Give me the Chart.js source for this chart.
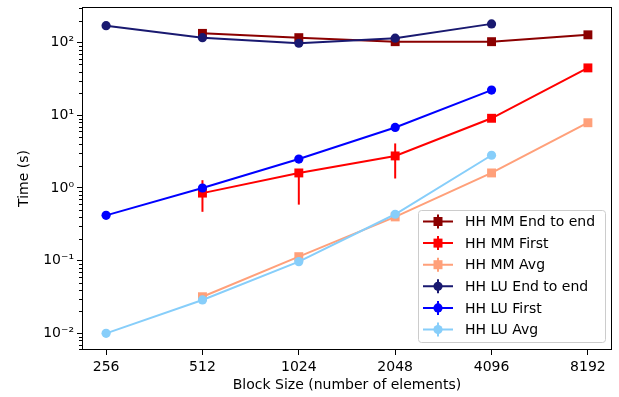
<!DOCTYPE html>
<html>
<head>
<meta charset="utf-8">
<script src="https://cdn.jsdelivr.net/npm/chart.js@4/dist/chart.umd.min.js"></script>
<style>
  html, body { margin: 0; padding: 0; background: #fff; }
  #wrap { width: 619px; height: 397px; }
</style>
</head>
<body>
<div id="wrap"><canvas id="chart" width="619" height="397"></canvas></div>
<script>
// data
const blockSizes = [256, 512, 1024, 2048, 4096, 8192];
const mmEndToEnd = [null, 134, 117, 103, 103, 128];
const mmFirst = [null, 0.85, 1.61, 2.76, 9.1, 44.9];
const mmFirstLow = [null, 0.47, 0.59, 1.35, null, null];
const mmFirstHigh = [null, 1.28, 1.75, 4.1, null, null];
const mmAvg = [null, 0.0319, 0.1135, 0.40, 1.61, 7.9];
const luEndToEnd = [171, 117, 98, 115, 181, null];
const luFirst = [0.42, 1.0, 2.5, 6.8, 22.2, null];
const luAvg = [0.01, 0.0288, 0.097, 0.435, 2.82, null];
const yTicks = [0.01, 0.1, 1, 10, 100];
const seriesNames = ['HH MM End to end', 'HH MM First', 'HH MM Avg', 'HH LU End to end', 'HH LU First', 'HH LU Avg'];

const FONT = 'DejaVu Sans';
const xs = blockSizes.map(b => Math.log2(b));

function points(vals) {
    const out = [];
    vals.forEach((v, i) => { if (v !== null) out.push({x: xs[i], y: v}); });
    return out;
}

function series(idx, vals, color, shape) {
    return {
        label: seriesNames[idx],
        data: points(vals),
        borderColor: color,
        backgroundColor: color,
        borderWidth: 2,
        pointStyle: shape,
        pointRadius: shape === 'rect' ? 6.3 : 4.6,
        pointBorderWidth: 0,
        order: 10 - idx,
        clip: false
    };
}

const datasets = [
    series(0, mmEndToEnd, '#8b0000', 'rect'),
    series(1, mmFirst, '#ff0000', 'rect'),
    series(2, mmAvg, '#ffa07a', 'rect'),
    series(3, luEndToEnd, '#191970', 'circle'),
    series(4, luFirst, '#0000ff', 'circle'),
    series(5, luAvg, '#87cefa', 'circle')
];

const sup = {'-': '\u207b', '0': '\u2070', '1': '\u00b9', '2': '\u00b2', '3': '\u00b3'};
function powLabel(v) {
    const e = Math.round(Math.log10(v));
    return '10' + String(e).split('').map(c => sup[c]).join('');
}

// error bars for HH MM First, drawn under its line
const errorBars = {
    id: 'errorBars',
    beforeDatasetDraw(chart, args) {
        if (args.index !== 1) return;
        const ctx = chart.ctx, x = chart.scales.x, y = chart.scales.y;
        ctx.save();
        ctx.strokeStyle = '#ff0000';
        ctx.lineWidth = 2;
        mmFirstLow.forEach((lo, i) => {
            if (lo === null) return;
            const px = x.getPixelForValue(xs[i]);
            ctx.beginPath();
            ctx.moveTo(px, y.getPixelForValue(lo));
            ctx.lineTo(px, y.getPixelForValue(mmFirstHigh[i]));
            ctx.stroke();
        });
        ctx.restore();
    }
};

// minor ticks, frame and legend in matplotlib style
const decor = {
    id: 'decor',
    afterDraw(chart) {
        const ctx = chart.ctx, a = chart.chartArea, y = chart.scales.y;
        ctx.save();
        ctx.strokeStyle = '#000';
        ctx.lineWidth = 1;
        for (let e = -3; e <= 3; e++) {
            for (let k = 2; k <= 9; k++) {
                const v = k * Math.pow(10, e);
                if (v < y.min || v > y.max) continue;
                const py = Math.round(y.getPixelForValue(v)) + 0.5;
                ctx.beginPath();
                ctx.moveTo(a.left - 3, py);
                ctx.lineTo(a.left, py);
                ctx.stroke();
            }
        }
        ctx.strokeRect(a.left + 0.5, a.top + 0.5, a.right - a.left - 1, a.bottom - a.top - 1);

        // legend box
        const bx = 418, by = 210, bw = 187, bh = 132;
        ctx.beginPath();
        ctx.roundRect(bx + 0.5, by + 0.5, bw, bh, 3);
        ctx.fillStyle = 'rgba(255,255,255,0.8)';
        ctx.fill();
        ctx.strokeStyle = '#cccccc';
        ctx.stroke();
        ctx.font = '14px "' + FONT + '"';
        ctx.textBaseline = 'middle';
        datasets.forEach((ds, i) => {
            const cy = by + 11.5 + i * 21.6;
            ctx.strokeStyle = ds.borderColor;
            ctx.fillStyle = ds.borderColor;
            ctx.lineWidth = 2;
            ctx.beginPath();
            ctx.moveTo(423, cy);
            ctx.lineTo(453, cy);
            ctx.moveTo(438, cy - 7);
            ctx.lineTo(438, cy + 7);
            ctx.stroke();
            ctx.beginPath();
            if (ds.pointStyle === 'rect') ctx.rect(433.5, cy - 4.5, 9, 9);
            else ctx.arc(438, cy, 4.6, 0, Math.PI * 2);
            ctx.fill();
            ctx.fillStyle = '#000';
            ctx.fillText(ds.label, 465, cy + 1);
        });
        ctx.restore();
    }
};

new Chart(document.getElementById('chart'), {
    type: 'line',
    data: { datasets: datasets },
    plugins: [errorBars, decor],
    options: {
        responsive: false,
        animation: false,
        layout: { padding: { left: 0, right: 7, top: 7, bottom: 0 } },
        plugins: { legend: { display: false }, tooltip: { enabled: false } },
        scales: {
            x: {
                type: 'linear',
                min: xs[0] - 0.25,
                max: xs[xs.length - 1] + 0.25,
                afterBuildTicks: s => { s.ticks = xs.map(v => ({value: v})); },
                afterFit: s => { s.height = 47; s.paddingLeft = 0; s.paddingRight = 0; },
                grid: { drawOnChartArea: false, tickLength: 5, color: '#000', tickColor: '#000' },
                border: { display: false },
                ticks: {
                    color: '#000', padding: 4,
                    font: { family: FONT, size: 14 },
                    callback: v => String(Math.round(Math.pow(2, v)))
                },
                title: {
                    display: true, text: 'Block Size (number of elements)', color: '#000',
                    font: { family: FONT, size: 14 }, padding: { top: 0, bottom: 3 }
                }
            },
            y: {
                type: 'logarithmic',
                min: 0.0059,
                max: 309,
                afterBuildTicks: s => { s.ticks = yTicks.map(v => ({value: v})); },
                afterFit: s => { s.width = 82; s.paddingTop = 0; s.paddingBottom = 0; },
                grid: { drawOnChartArea: false, tickLength: 5, color: '#000', tickColor: '#000' },
                border: { display: false },
                ticks: {
                    color: '#000', padding: 3,
                    font: { family: FONT, size: 14 },
                    callback: v => powLabel(v)
                },
                title: {
                    display: true, text: 'Time (s)', color: '#000',
                    font: { family: FONT, size: 14 }, padding: { top: 16, bottom: 0 }
                }
            }
        }
    }
});
</script>
</body>
</html>
